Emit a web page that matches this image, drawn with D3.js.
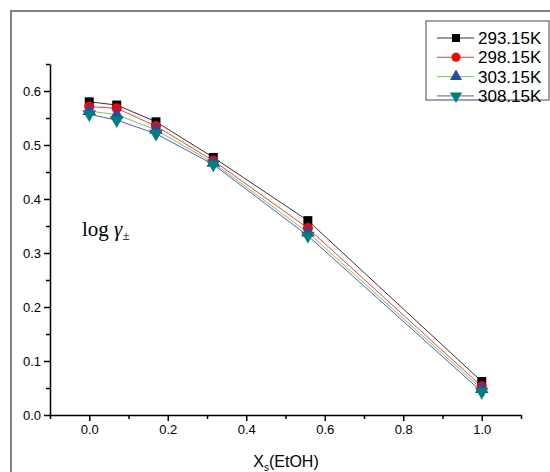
<!DOCTYPE html>
<html>
<head>
<meta charset="utf-8">
<script src="https://cdn.jsdelivr.net/npm/d3@7"></script>
<style>
	body { margin: 0; background: #fff; }
	svg { display: block; }
</style>
</head>
<body>
<div id="chart"></div>
<script>
// mole fraction of ethanol
const xs = [0, 0.07, 0.17, 0.316, 0.557, 1.0];
const temps = ['293.15K', '298.15K', '303.15K', '308.15K'];
const logGamma = [
	[0.580, 0.574, 0.543, 0.477, 0.360, 0.062],
	[0.571, 0.568, 0.535, 0.471, 0.346, 0.053],
	[0.563, 0.556, 0.528, 0.467, 0.338, 0.048],
	[0.557, 0.546, 0.521, 0.464, 0.332, 0.043]
];
const xMajor = [0, 0.2, 0.4, 0.6, 0.8, 1.0];
const yMajor = [0, 0.1, 0.2, 0.3, 0.4, 0.5, 0.6];

const lineColors = ['#333', '#ff3b3b', '#6fcf4f', '#5757d6'];
const markColors = ['#000', '#ff0000', '#2a4aa0', '#007f7f'];
const shapes = [d3.symbolSquare, d3.symbolCircle, d3.symbolTriangle, d3.symbolTriangle];
const sizes = [80, 80, 80, 80];
const rot = [0, 0, 0, 180];

const width = 550, height = 472;

const svg = d3.select('#chart')
	.append('svg')
	.attr('width', width)
	.attr('height', height)
	.style('font-family', 'Liberation Sans, Arial, sans-serif');

// outer frame
svg.append('rect')
	.attr('x', 11).attr('y', 11)
	.attr('width', 600).attr('height', 600)
	.attr('fill', 'none')
	.attr('stroke', '#808080')
	.attr('stroke-width', 2);

const x = d3.scaleLinear().domain([-0.1, 1.1]).range([50, 521]);
const y = d3.scaleLinear().domain([0, 0.65]).range([415, 64]);

// x axis
const xAxis = svg.append('g')
	.attr('transform', `translate(0, ${y(0)})`)
	.call(d3.axisBottom(x).tickValues(xMajor).tickSize(6).tickSizeOuter(0).tickPadding(4)
		.tickFormat(d3.format('.1f')));
xAxis.append('g')
	.call(d3.axisBottom(x).tickValues(d3.range(-1, 12, 2).map((d) => d / 10)).tickSize(4).tickFormat(''))
	.select('.domain').remove();

// y axis
const yAxis = svg.append('g')
	.attr('transform', `translate(${x(-0.1)}, 0)`)
	.call(d3.axisLeft(y).tickValues(yMajor).tickSize(6).tickSizeOuter(0).tickPadding(3)
		.tickFormat(d3.format('.1f')));
yAxis.append('g')
	.call(d3.axisLeft(y).tickValues(d3.range(1, 14, 2).map((d) => d / 20)).tickSize(4).tickFormat(''))
	.select('.domain').remove();

svg.selectAll('.domain, .tick line')
	.attr('stroke', '#000')
	.attr('stroke-width', 1.5);
svg.selectAll('.tick text')
	.attr('font-size', 13)
	.attr('fill', '#000');

// series
const line = d3.line()
	.x((d) => x(d[0]))
	.y((d) => y(d[1]));

logGamma.forEach((vals, i) => {
	const pts = xs.map((v, j) => [v, vals[j]]);
	svg.append('path')
		.datum(pts)
		.attr('fill', 'none')
		.attr('stroke', lineColors[i])
		.attr('stroke-width', 1)
		.attr('d', line);
});

logGamma.forEach((vals, i) => {
	svg.append('g')
		.selectAll('path')
		.data(xs.map((v, j) => [v, vals[j]]))
		.enter()
		.append('path')
		.attr('d', d3.symbol().type(shapes[i]).size(sizes[i]))
		.attr('transform', (d) => `translate(${x(d[0])}, ${y(d[1])}) rotate(${rot[i]})`)
		.attr('fill', markColors[i]);
});

// axis titles
const xt = svg.append('text')
	.attr('x', 286)
	.attr('y', 467)
	.attr('text-anchor', 'middle')
	.attr('font-size', 16)
	.attr('fill', '#000');
xt.append('tspan').text('X');
xt.append('tspan').attr('font-size', 10).attr('dy', 4).text('s');
xt.append('tspan').attr('dy', -4).text('(EtOH)');

const yt = svg.append('text')
	.attr('x', 82)
	.attr('y', 236)
	.attr('font-family', 'Liberation Serif, Times New Roman, serif')
	.attr('font-size', 21)
	.attr('fill', '#000');
yt.append('tspan').text('log ');
yt.append('tspan').attr('font-style', 'italic').text('γ');
yt.append('tspan').attr('font-size', 13).attr('dy', 4).text('±');

// legend
const legend = svg.append('g');
legend.append('rect')
	.attr('x', 426).attr('y', 21)
	.attr('width', 123).attr('height', 79)
	.attr('fill', '#fff')
	.attr('stroke', '#666')
	.attr('stroke-width', 1.2);

temps.forEach((t, i) => {
	const ly = 38 + i * 19.3;
	legend.append('line')
		.attr('x1', 437).attr('x2', 474)
		.attr('y1', ly).attr('y2', ly)
		.attr('stroke', lineColors[i])
		.attr('stroke-width', 1);
	legend.append('path')
		.attr('d', d3.symbol().type(shapes[i]).size(sizes[i] * 0.8))
		.attr('transform', `translate(456, ${ly}) rotate(${rot[i]})`)
		.attr('fill', markColors[i]);
	legend.append('text')
		.attr('x', 478)
		.attr('y', ly + 6)
		.attr('font-size', 17)
		.attr('fill', '#000')
		.text(t);
});
</script>
</body>
</html>
